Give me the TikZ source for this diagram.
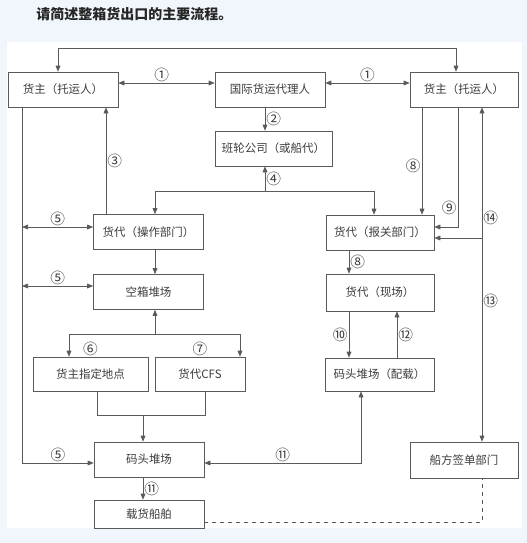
\documentclass[tikz,border=0pt]{standalone}
\usepackage{fontspec}
\newfontfamily\cjk{Noto Sans CJK SC}
\usetikzlibrary{arrows.meta}
\definecolor{pagebg}{RGB}{240,246,252}
\definecolor{ink}{RGB}{90,90,90}
\definecolor{txt}{RGB}{60,60,60}
\tikzset{
  box/.style={draw=ink, line width=0.5pt, text=txt, minimum width=82.5pt, minimum height=26.25pt,
    inner sep=1pt, font=\cjk\fontsize{8.6}{10}\selectfont},
  num/.style={text=txt, inner sep=0.8pt, font=\cjk\fontsize{11}{11}\selectfont},
  flow/.style={draw=ink, line width=0.5pt},
}
\begin{document}
\begin{tikzpicture}[x=0.75pt,y=-0.75pt,>={Triangle[length=4.5pt,width=3.6pt]}]
  \useasboundingbox (0,0) rectangle (527,543);
  \fill[pagebg] (0,0) rectangle (527,543);
  \fill[white] (7,42) rectangle (522,528);
  \node[anchor=west, inner sep=0pt, font=\cjk\bfseries\fontsize{10.5}{12}\selectfont, text=black!85]
    (title) at (36,14) {请简述整箱货出口的主要流程。};

  \node[box] (hzL) at (63,89.5) {货主（托运人）};
  \node[box] (gjhd) at (270,89.5) {国际货运代理人};
  \node[box, minimum width=81pt] (hzR) at (464,89.5) {货主（托运人）};
  \node[box, minimum width=87.75pt] (cgs) at (273.5,148.5) {班轮公司（或船代）};
  \node[box] (hdcz) at (148.5,232) {货代（操作部门）};
  \node[box, minimum width=81pt] (hdbg) at (380,232.5) {货代（报关部门）};
  \node[box] (kxdc) at (148.5,292) {空箱堆场};
  \node[box, minimum width=81pt, minimum height=27.75pt] (hdxc) at (380,292.5) {货代（现场）};
  \node[box, minimum width=86.25pt, minimum height=25.5pt] (hzzd) at (90.5,374) {货主指定地点};
  \node[box, minimum width=67.5pt, minimum height=25.5pt] (hdcfs) at (200,374) {货代CFS};
  \node[box, minimum width=81.75pt, minimum height=24.75pt] (mtpz) at (379.5,374.5) {码头堆场（配载）};
  \node[box] (mtdc) at (149,459.5) {码头堆场};
  \node[box, minimum width=81pt, minimum height=27pt] (qfd) at (464,460) {船方签单部门};
  \node[box, minimum height=21pt] (zhcb) at (149,514) {载货船舶};

  % top row
  \draw[flow,<->] (hzL.east |- 0,83) -- node[num,above,pos=0.45] (n1a) {①} (gjhd.west |- 0,83);
  \draw[flow,<->] (gjhd.east |- 0,83) -- node[num,above] (n1b) {①} (hzR.west |- 0,83);
  \draw[flow,<->] (hzL.north -| 58,0) |- (456,48) -- (hzR.north -| 456,0);
  \draw[flow,->] (gjhd.south -| 265,0) -- node[num,right] (n2) {②} (cgs.north -| 265,0);
  \draw[flow,->] (hdcz.north -| 106,0) -- node[num,right] (n3) {③} (hzL.south -| 106,0);

  % booking
  \coordinate (j4) at (265,191);
  \draw[flow,->] (j4) -- node[num,right] (n4) {④} (cgs.south -| j4);
  \draw[flow,->] (j4) -| (hdcz.north -| 155,0);
  \draw[flow,->] (j4) -| (hdbg.north -| 374,0);

  % left side
  \draw[flow,->] (hzL.south -| 22,0) |- node[num,above,pos=0.75] (n5c) {⑤} (mtdc.west |- 0,463);
  \draw[flow,<->] (22,227) -- node[num,above] (n5a) {⑤} (hdcz.west |- 0,227);
  \draw[flow,<->] (22,286) -- node[num,above] (n5b) {⑤} (kxdc.west |- 0,286);
  \draw[flow,->] (hdcz.south -| 155,0) -- (kxdc.north -| 155,0);

  \coordinate (j6) at (155,334);
  \draw[flow,->] (j6) -- (kxdc.south -| j6);
  \draw[flow,->] (j6) -| (hzzd.north -| 69,0);
  \draw[flow,->] (j6) -| (hdcfs.north -| 240,0);
  \node[num,above] (n6) at (hzzd.north) {⑥};
  \node[num,above] (n7) at (hdcfs.north) {⑦};

  \coordinate (j7) at (143,415);
  \draw[flow] (hzzd.south -| 97,0) |- (205,415) -- (hdcfs.south -| 205,0);
  \draw[flow,->] (j7) -- (mtdc.north -| j7);
  \draw[flow,->] (mtdc.south -| 143,0) -- node[num,right] (n11b) {⑪} (zhcb.north -| 143,0);

  % right side
  \draw[flow,->] (hzR.south -| 422,0) -- node[num,left,pos=0.55] (n8a) {⑧} (hdbg.north -| 422,0);
  \draw[flow,->] (hzR.south -| 458,0) |- node[num,left,pos=0.42] (n9) {⑨} (hdbg.east |- 0,227);
  \draw[flow,<->] (hzR.south -| 482,0) -- node[num,right,pos=0.33] (n14) {⑭}
    node[num,right,pos=0.58] (n13) {⑬} (qfd.north -| 482,0);
  \coordinate (j14) at (482,238);
  \draw[flow,->] (j14) -- (hdbg.east |- j14);

  \draw[flow,->] (hdbg.south -| 349,0) -- node[num,right] (n8b) {⑧} (hdxc.north -| 349,0);
  \draw[flow,->] (hdxc.south -| 349,0) -- node[num,left] (n10) {⑩} (mtpz.north -| 349,0);
  \draw[flow,->] (mtpz.north -| 397,0) -- node[num,right] (n12) {⑫} (hdxc.south -| 397,0);
  \draw[flow,<->] (mtdc.east |- 0,463) -- node[num,above] (n11a) {⑪} (361,463) -- (mtpz.south -| 361,0);

  \draw[flow,dashed] (zhcb.east |- 0,522) -| (qfd.south -| 482,0);
\end{tikzpicture}
\end{document}
